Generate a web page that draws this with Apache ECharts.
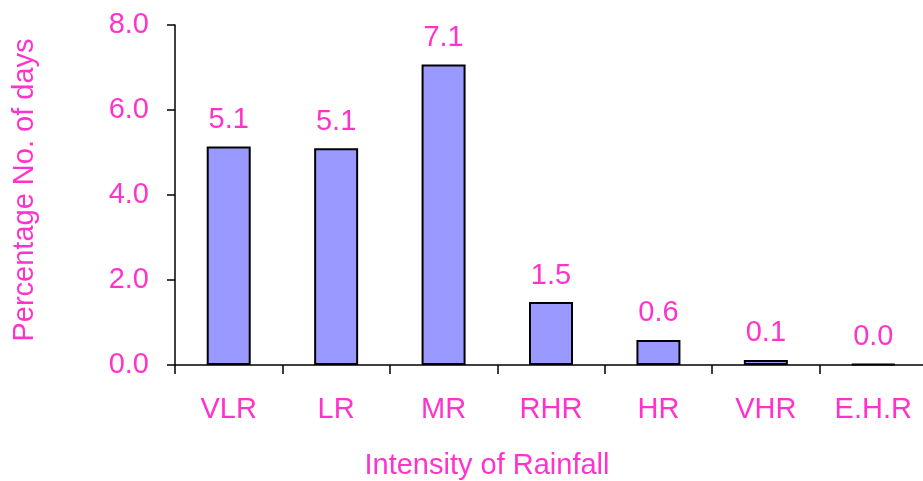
<!DOCTYPE html>
<html>
<head>
<meta charset="utf-8">
<script src="https://cdn.jsdelivr.net/npm/echarts@6/dist/echarts.min.js"></script>
<style>html,body{margin:0;padding:0;background:#fff;}#c{width:923px;height:481px;}</style>
</head>
<body>
<div id="c"></div>
<script>
const categories = ['VLR', 'LR', 'MR', 'RHR', 'HR', 'VHR', 'E.H.R'];
const values = [5.14, 5.1, 7.07, 1.48, 0.59, 0.12, 0.02];
const yTicks = [0, 2, 4, 6, 8];

const pink = '#ff33cc';
const font = 'Liberation Sans';
const fs = 29;
const chart = echarts.init(document.getElementById('c'));
chart.setOption({
  animation: false,
  backgroundColor: '#fff',
  grid: { left: 175, right: -4, top: 25, bottom: 116, containLabel: false, outerBoundsMode: 'none' },
  xAxis: {
    type: 'category',
    data: categories,
    name: 'Intensity of Rainfall',
    nameLocation: 'middle',
    nameGap: 86,
    nameTextStyle: { color: pink, fontSize: fs, fontFamily: font, padding: [0, 128, 0, 0] },
    axisLine: { lineStyle: { color: '#000', width: 1.5 } },
    axisTick: { show: true, alignWithLabel: false, length: 9, lineStyle: { color: '#000', width: 1.5 } },
    axisLabel: { color: pink, fontSize: fs, fontFamily: font, margin: 30 },
    splitLine: { show: false }
  },
  yAxis: {
    type: 'value',
    min: yTicks[0],
    max: yTicks[yTicks.length - 1],
    interval: 2,
    name: 'Percentage No. of days',
    nameLocation: 'middle',
    nameGap: 136,
    nameTextStyle: { color: pink, fontSize: fs, fontFamily: font, padding: [0, 0, 0, 10] },
    axisLine: { show: true, lineStyle: { color: '#000', width: 1.5 } },
    axisTick: { show: true, length: 8, lineStyle: { color: '#000', width: 1.5 } },
    axisLabel: { color: pink, fontSize: fs, fontFamily: font, margin: 26, formatter: v => v.toFixed(1) },
    splitLine: { show: false }
  },
  series: [{
    type: 'bar',
    data: values,
    barWidth: 44,
    itemStyle: { color: '#9999ff', borderColor: '#000', borderWidth: 2 },
    label: {
      show: true,
      position: 'top',
      distance: 12,
      color: pink,
      fontSize: fs,
      fontFamily: font,
      formatter: p => p.value.toFixed(1)
    }
  }]
});
</script>
</body>
</html>
